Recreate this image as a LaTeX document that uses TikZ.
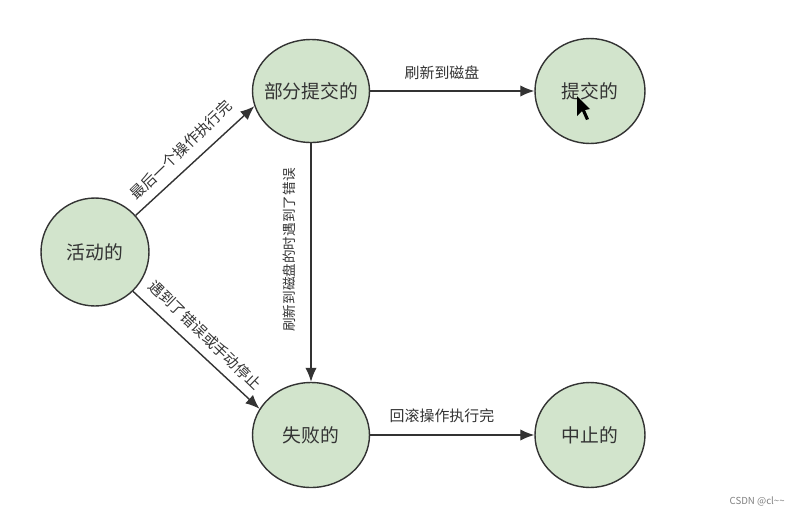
\documentclass[tikz,border=0pt]{standalone}
\usepackage{fontspec}
\setmainfont{Noto Sans CJK SC}
\usepackage{xcolor}
\usetikzlibrary{arrows.meta,shapes.geometric}
\definecolor{state}{RGB}{210,228,204}
\definecolor{ink}{RGB}{51,51,51}
\tikzset{
  statenode/.style={ellipse,draw=ink,fill=state,line width=0.8pt,inner sep=0pt,inner xsep=-0.15cm,text=ink,font=\fontsize{10.7}{12}\selectfont},
  flow/.style={draw=ink,line width=0.8pt,-{Latex[length=8pt,width=6.5pt]}},
  flowlabel/.style={text=ink,inner sep=0pt,font=\fontsize{8.5}{10}\selectfont}
}
\begin{document}
\begin{tikzpicture}[x=0.02cm,y=-0.02cm]
  \useasboundingbox (0,0) rectangle (799,515);
  \node[statenode,minimum width=2.16cm,minimum height=2.16cm] (active) at (95,252) {活动的};
  \node[statenode,minimum width=2.34cm,minimum height=2.06cm] (partial) at (311,91) {部分提交的};
  \node[statenode,minimum width=2.2cm,minimum height=2.1cm] (committed) at (590,91) {提交的};
  \node[statenode,minimum width=2.34cm,minimum height=2.1cm] (failed) at (311,435) {失败的};
  \node[statenode,minimum width=2.2cm,minimum height=2.1cm] (aborted) at (590,435) {中止的};
  \draw[flow] (active.42) -- (partial.195);
  \draw[flow] (active.-46) -- (failed.153);
  \draw[flow] (partial) -- (committed);
  \draw[flow] (partial) -- (failed);
  \draw[flow] (failed) -- (aborted);
  \node[flowlabel,rotate=44] (lastop) at (181,150) {最后一个操作执行完};
  \node[flowlabel,rotate=-44] (errstop) at (205,335) {遇到了错误或手动停止};
  \node[flowlabel,rotate=90,font=\fontsize{7.75}{9}\selectfont] (diskerr) at (289,250) {刷新到磁盘的时遇到了错误};
  \node[flowlabel] (flush) at (442,73) {刷新到磁盘};
  \node[flowlabel] (rollback) at (442,416) {回滚操作执行完};
  % mouse pointer over the committed state
  \fill[black] (577,96) -- (577,116) -- (582,111) -- (586,120) -- (589,119) -- (585,110) -- (590,109) -- cycle;
  \node[text=gray,inner sep=0pt,font=\fontsize{5.5}{6}\selectfont,anchor=east] (mark) at (785,501) {CSDN @cl\textasciitilde\textasciitilde};
\end{tikzpicture}
\end{document}
